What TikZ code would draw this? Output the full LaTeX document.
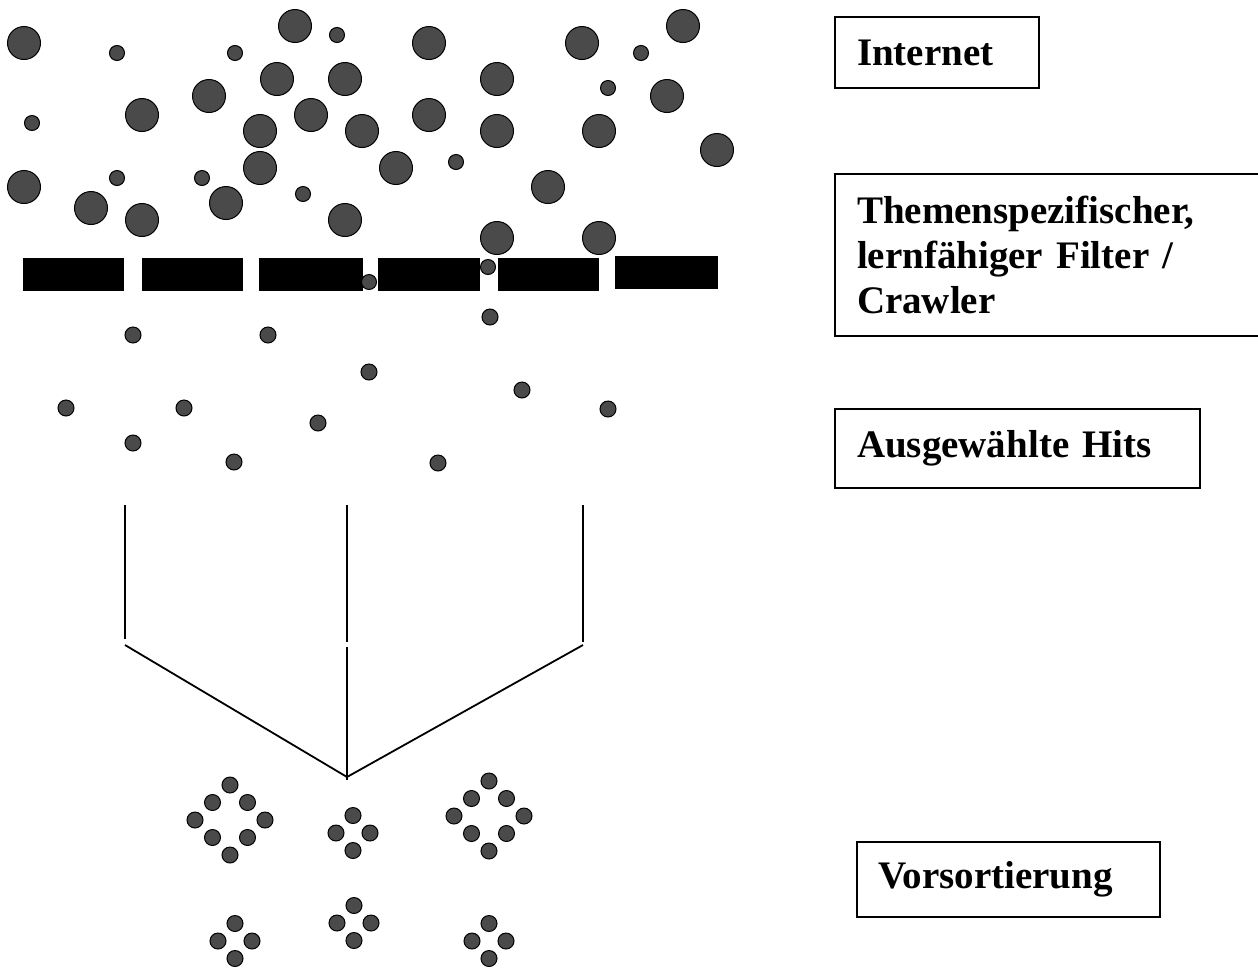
\documentclass[tikz,border=0pt]{standalone}
\usepackage{fontspec}
\setmainfont{Liberation Serif}
\usetikzlibrary{positioning}
\definecolor{dotgray}{RGB}{74,74,74}

\begin{document}
\begin{tikzpicture}[
x=0.5pt, y=-0.5pt,
dot/.style={draw=black, fill=dotgray, line width=0.5pt},
bar/.style={fill=black},
funnel/.style={draw=black, line width=0.9pt},
label/.style={rectangle, draw=black, line width=1pt, inner xsep=11pt, inner ysep=0pt, align=left, font=\fontsize{19.5}{22.5}\selectfont\bfseries},
]
\useasboundingbox (0,0) rectangle (1258,970);

%Internet
\foreach \px/\py in {24/43, 142/115, 209/96, 295/26, 277/79, 345/79, 311/115, 260/131, 362/131, 260/168, 396/168, 24/187, 91/208, 142/220, 226/203, 345/220, 429/43, 497/79, 429/115, 497/131, 582/43, 683/26, 667/96, 599/131, 717/150, 548/187, 497/238, 599/238}
  \path[dot] (\px,\py) circle[radius=8.25pt];
\foreach \px/\py in {117/53, 235/53, 337/35, 32/123, 117/178, 202/178, 303/194, 456/162, 641/53, 608/88}
  \path[dot] (\px,\py) circle[radius=3.75pt];

%Filter
\foreach \xa/\xb in {23/124, 142/243, 259/363, 378/480, 498/599}
  \fill[bar] (\xa,258) rectangle (\xb,291);
\fill[bar] (615,256) rectangle (718,289);
\path[dot] (369,282) circle[radius=3.75pt];
\path[dot] (488,267) circle[radius=3.75pt];

%Hits
\foreach \px/\py in {133/335, 268/335, 490/317, 369/372, 66/408, 184/408, 522/390, 608/409, 318/423, 133/443, 234/462, 438/463}
  \path[dot] (\px,\py) circle[radius=4pt];

%Funnel
\coordinate (ltop) at (125,505);
\coordinate (lbot) at (125,639);
\coordinate (lkink) at (125,645);
\coordinate (mtop) at (347,505);
\coordinate (mgap) at (347,642);
\coordinate (mgap2) at (347,647);
\coordinate (mbot) at (347,780);
\coordinate (rtop) at (583,505);
\coordinate (rbot) at (583,642);
\coordinate (rkink) at (583,645);
\coordinate (tip) at (347,777);
\draw[funnel] (ltop) -- (lbot);
\draw[funnel] (mtop) -- (mgap);
\draw[funnel] (mgap2) -- (mbot);
\draw[funnel] (rtop) -- (rbot);
\draw[funnel] (lkink) -- (tip) -- (rkink);

%Sorting
\foreach \cx/\cy in {230/820, 489/816}
  \foreach \dx/\dy in {0/-35, 17.5/-17.5, 35/0, 17.5/17.5, 0/35, -17.5/17.5, -35/0, -17.5/-17.5}
    \path[dot] ({\cx+(\dx)},{\cy+(\dy)}) circle[radius=4pt];
\foreach \cx/\cy in {353/833, 235/941, 354/923, 489/941}
  \foreach \dx/\dy in {0/-17.5, 17/0, 0/17.5, -17/0}
    \path[dot] ({\cx+(\dx)},{\cy+(\dy)}) circle[radius=4pt];

%Labels
\node[label, anchor=north west, text width=80pt, minimum height=35.5pt] (internet) at (834,16) {Internet};
\node[label, below right=42pt and 0pt of internet.south west, text width=196pt, minimum height=81pt] (filter) {Themenspezifischer,\\lernfähiger Filter /\\Crawler};
\node[label, below right=35.5pt and 0pt of filter.south west, text width=160.5pt, minimum height=39.5pt] (hits) {Ausgewählte Hits};
\node[label, below right=176pt and 11pt of hits.south west, inner xsep=10.5pt, text width=130.5pt, minimum height=37.5pt] (sorting) {Vorsortierung};
\end{tikzpicture}
\end{document}
